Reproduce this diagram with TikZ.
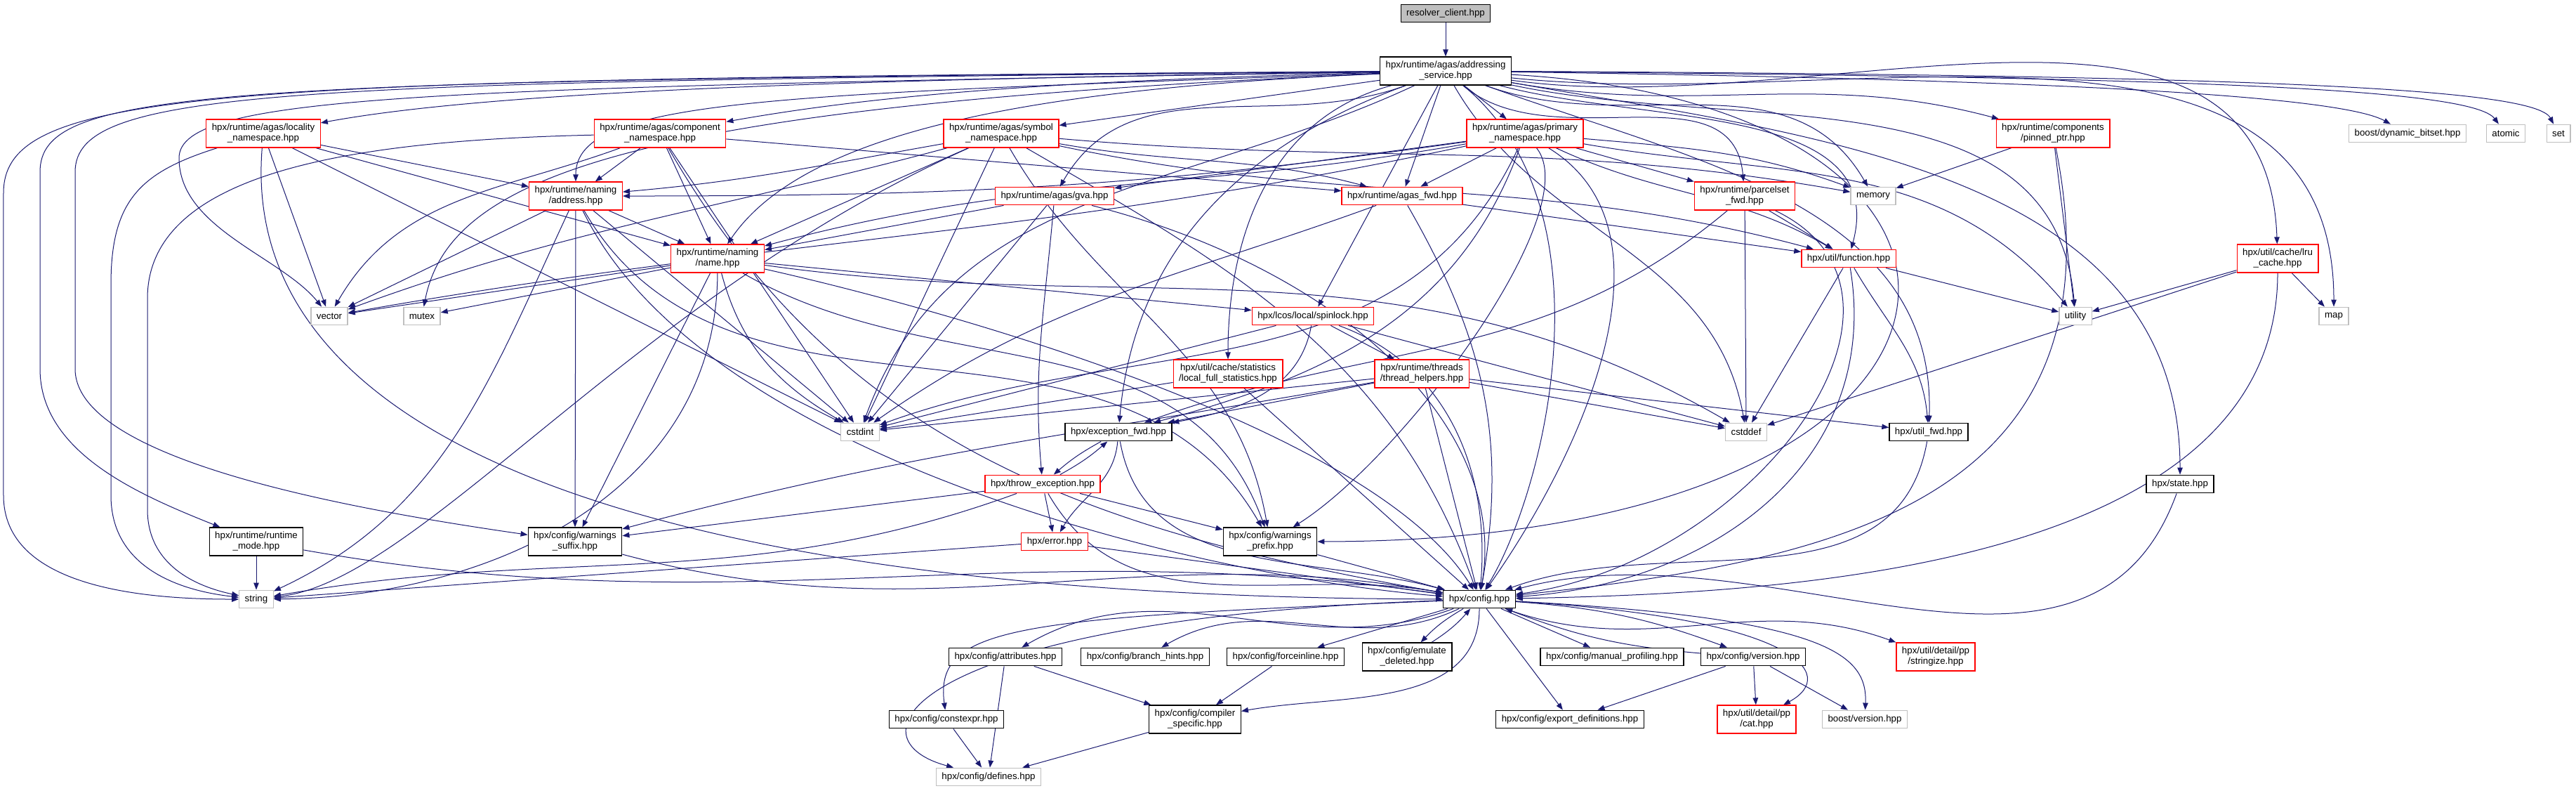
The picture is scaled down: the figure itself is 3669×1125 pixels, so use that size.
\documentclass[tikz,border=0pt]{standalone}
\usepackage{fontspec}
\setmainfont{Liberation Sans}
\usetikzlibrary{arrows.meta}
\pgfdeclarelayer{background}
\pgfsetlayers{background,main}
\definecolor{edgeblue}{RGB}{25,25,112}
\definecolor{sysgray}{RGB}{191,191,191}

\begin{document}
\begin{tikzpicture}[x=0.1pt, y=0.1pt,
    hdrbox/.style={draw, line width=0.13pt, fill=white, font=\fontsize{1.33}{1.5}\selectfont,
      inner xsep=0.8pt, inner ysep=0.2pt, minimum height=2.56pt},
    twoline/.style={align=center, minimum height=4pt},
    plainhdr/.style={hdrbox, draw=black},
    redhdr/.style={hdrbox, draw=red},
    syshdr/.style={hdrbox, draw=sysgray},
    roothdr/.style={hdrbox, draw=black, fill=sysgray},
    dep/.style={color=edgeblue, line width=0.1pt, -{Triangle[length=1pt, width=0.75pt]}}
  ]
    \useasboundingbox (0,0) rectangle (3669,1125);

    % Top
    \node[roothdr] (root) at (2059,1106) {resolver\_client.hpp};
    \node[plainhdr, twoline] (as) at (2059,1024) {hpx/runtime/agas/addressing\\\_service.hpp};

    % Namespaces and system headers
    \node[redhdr, twoline] (loc) at (375,935) {hpx/runtime/agas/locality\\\_namespace.hpp};
    \node[redhdr, twoline] (comp) at (940,935) {hpx/runtime/agas/component\\\_namespace.hpp};
    \node[redhdr, twoline] (sym) at (1426,935) {hpx/runtime/agas/symbol\\\_namespace.hpp};
    \node[redhdr, twoline] (prim) at (2172,935) {hpx/runtime/agas/primary\\\_namespace.hpp};
    \node[redhdr, twoline] (pinned) at (2924,935) {hpx/runtime/components\\/pinned\_ptr.hpp};
    \node[syshdr] (bitset) at (3429,935) {boost/dynamic\_bitset.hpp};
    \node[syshdr] (atomic) at (3569,935) {atomic};
    \node[syshdr] (set) at (3644,935) {set};

    \node[redhdr, twoline] (addr) at (820,846) {hpx/runtime/naming\\/address.hpp};
    \node[redhdr] (gva) at (1502,846) {hpx/runtime/agas/gva.hpp};
    \node[redhdr] (agasfwd) at (1997,846) {hpx/runtime/agas\_fwd.hpp};
    \node[redhdr, twoline] (parcelfwd) at (2485,846) {hpx/runtime/parcelset\\\_fwd.hpp};
    \node[syshdr] (memory) at (2668,846) {memory};

    \node[redhdr, twoline] (name) at (1022,757) {hpx/runtime/naming\\/name.hpp};
    \node[redhdr] (function) at (2633,757) {hpx/util/function.hpp};
    \node[redhdr, twoline] (lru) at (3244,757) {hpx/util/cache/lru\\\_cache.hpp};

    \node[syshdr] (vector) at (469,675) {vector};
    \node[syshdr] (mutex) at (601,675) {mutex};
    \node[redhdr] (spinlock) at (1870,675) {hpx/lcos/local/spinlock.hpp};
    \node[syshdr] (utility) at (2956,675) {utility};
    \node[syshdr] (map) at (3324,675) {map};

    \node[redhdr, twoline] (stats) at (1749,593) {hpx/util/cache/statistics\\/local\_full\_statistics.hpp};
    \node[redhdr, twoline] (threadh) at (2025,593) {hpx/runtime/threads\\/thread\_helpers.hpp};

    \node[syshdr] (cstdint) at (1225,510) {cstdint};
    \node[plainhdr] (excfwd) at (1593,510) {hpx/exception\_fwd.hpp};
    \node[syshdr] (cstddef) at (2487,510) {cstddef};
    \node[plainhdr] (utilfwd) at (2747,510) {hpx/util\_fwd.hpp};

    \node[redhdr] (throwexc) at (1485,436) {hpx/throw\_exception.hpp};
    \node[plainhdr] (state) at (3105,436) {hpx/state.hpp};

    \node[plainhdr, twoline] (rtmode) at (365,354) {hpx/runtime/runtime\\\_mode.hpp};
    \node[plainhdr, twoline] (wsuffix) at (819,354) {hpx/config/warnings\\\_suffix.hpp};
    \node[redhdr] (error) at (1502,354) {hpx/error.hpp};
    \node[plainhdr, twoline] (wprefix) at (1809,354) {hpx/config/warnings\\\_prefix.hpp};

    \node[syshdr] (string) at (365,272) {string};
    \node[plainhdr] (config) at (2107,272) {hpx/config.hpp};

    % Config headers
    \node[plainhdr] (attr) at (1432,190) {hpx/config/attributes.hpp};
    \node[plainhdr] (branch) at (1631,190) {hpx/config/branch\_hints.hpp};
    \node[plainhdr] (forceinl) at (1831,190) {hpx/config/forceinline.hpp};
    \node[plainhdr, twoline] (emulate) at (2004,190) {hpx/config/emulate\\\_deleted.hpp};
    \node[plainhdr] (profiling) at (2296,190) {hpx/config/manual\_profiling.hpp};
    \node[plainhdr] (version) at (2497,190) {hpx/config/version.hpp};
    \node[redhdr, twoline] (stringize) at (2757,190) {hpx/util/detail/pp\\/stringize.hpp};

    \node[plainhdr] (constexpr) at (1348,101) {hpx/config/constexpr.hpp};
    \node[plainhdr, twoline] (compiler) at (1702,101) {hpx/config/compiler\\\_specific.hpp};
    \node[plainhdr] (exportdef) at (2236,101) {hpx/config/export\_definitions.hpp};
    \node[redhdr, twoline] (cat) at (2502,101) {hpx/util/detail/pp\\/cat.hpp};
    \node[syshdr] (bversion) at (2656,101) {boost/version.hpp};

    \node[syshdr] (defines) at (1408,19) {hpx/config/defines.hpp};

    \begin{pgfonlayer}{background}
    % Includes of the root
    \draw[dep] (root) -- (as);

    % addressing_service.hpp
    \path[dep] (as)
      edge (sym)
      edge (prim)
      edge (agasfwd)
      edge (spinlock)
      edge[out=-10, in=165] (pinned)
      edge[out=200, in=60] (gva)
      edge[out=-40, in=95] (parcelfwd)
      edge[out=-20, in=120] (memory)
      edge[out=-15, in=75] (function)
      edge[out=195, in=90] (stats)
      edge[out=200, in=85] (excfwd)
      edge[out=205, in=70] (cstdint)
      edge[out=-60, in=100] (cstddef)
      edge[out=-20, in=88] (utilfwd)
      edge[out=-8, in=92] (lru)
      edge[out=-10, in=90] (state)
      edge[out=-6, in=90] (map)
      edge[out=-12, in=95] (utility);
    \draw[dep] (as) .. controls (1200,1012) and (700,995) .. (loc);
    \draw[dep] (as) .. controls (1500,1010) and (1250,990) .. (comp);
    \draw[dep] (as) .. controls (2900,1012) and (3330,990) .. (bitset);
    \draw[dep] (as) .. controls (3100,1015) and (3520,1000) .. (atomic);
    \draw[dep] (as) .. controls (3200,1018) and (3610,1000) .. (set);
    \draw[dep] (as) .. controls (1100,990) and (820,985) .. (addr);
    \draw[dep] (as) .. controls (1500,1000) and (1150,945) .. (name);
    \draw[dep] (as) .. controls (600,1000) and (255,990) .. (255,900)
      .. controls (255,800) and (400,760) .. (vector);
    \draw[dep] (as) .. controls (900,975) and (640,875) .. (mutex);
    \draw[dep] (as) .. controls (300,1012) and (5,1000) .. (5,850) -- (5,420)
      .. controls (5,290) and (200,272) .. (string);
    \draw[dep] (as) .. controls (300,1010) and (57,1000) .. (57,880) -- (57,600)
      .. controls (57,480) and (200,420) .. (rtmode);
    \draw[dep] (as) .. controls (400,1008) and (107,1000) .. (107,880) -- (107,600)
      .. controls (107,470) and (500,400) .. (wsuffix);
    \draw[dep] (as) .. controls (2950,975) and (2900,355) .. (wprefix);
    \draw[dep] (as) .. controls (2300,825) and (2200,425) .. (config);

    % locality_namespace.hpp
    \path[dep] (loc)
      edge (addr)
      edge (name)
      edge (vector)
      edge (cstdint);
    \draw[dep] (loc) .. controls (200,880) and (158,840) .. (158,720) -- (158,420)
      .. controls (158,320) and (250,285) .. (string);
    \draw[dep] (loc) .. controls (340,505) and (900,275) .. (config);

    % component_namespace.hpp
    \path[dep] (comp)
      edge (addr)
      edge (name)
      edge (agasfwd)
      edge (cstdint)
      edge[out=200, in=60] (vector)
      edge[out=-60, in=170] (config);
    \draw[dep] (comp) .. controls (500,925) and (210,880) .. (210,700) -- (210,400)
      .. controls (210,320) and (280,290) .. (string);

    % symbol_namespace.hpp
    \path[dep] (sym)
      edge (name)
      edge (cstdint)
      edge[out=190, in=5] (addr)
      edge[out=195, in=20] (vector)
      edge[out=-10, in=165] (agasfwd)
      edge[out=-12, in=165] (function)
      edge[out=-5, in=170] (memory)
      edge[out=-60, in=100] (wprefix)
      edge[out=-30, in=110] (config);
    \draw[dep] (sym) .. controls (900,700) and (600,300) .. (string);

    % primary_namespace.hpp
    \path[dep] (prim)
      edge (agasfwd)
      edge (gva)
      edge (parcelfwd)
      edge[out=188, in=0] (addr)
      edge[out=190, in=15] (name)
      edge[out=192, in=10] (vector)
      edge[out=-25, in=150] (function)
      edge[out=-5, in=160] (memory)
      edge[out=-10, in=130] (utility)
      edge[out=-115, in=20] (cstdint)
      edge[out=-110, in=15] (excfwd);
    \draw[dep] (prim) .. controls (2260,825) and (2000,475) .. (wprefix);
    \draw[dep] (prim) .. controls (2400,795) and (2250,475) .. (config);

    % naming
    \path[dep] (addr)
      edge (name)
      edge (vector)
      edge (cstdint)
      edge (wsuffix)
      edge[out=-60, in=120] (wprefix)
      edge[out=-115, in=25] (string);
    \draw[dep] (addr) .. controls (1000,475) and (1700,305) .. (config);
    \path[dep] (name)
      edge (vector)
      edge (mutex)
      edge (spinlock)
      edge (wsuffix)
      edge[out=-75, in=150] (cstdint)
      edge[out=-30, in=110] (wprefix)
      edge[out=-8, in=150] (cstddef);
    \draw[dep] (name) .. controls (1021,425) and (700,275) .. (string);
    \draw[dep] (name) .. controls (1300,695) and (1950,525) .. (config);

    % gva, agas_fwd, parcelset_fwd, function
    \path[dep] (gva)
      edge (name)
      edge (cstdint)
      edge[out=-95, in=95] (throwexc);
    \draw[dep] (gva) .. controls (1900,745) and (2150,525) .. (config);
    \path[dep] (agasfwd)
      edge (function)
      edge[out=200, in=35] (cstdint)
      edge[out=-60, in=80] (config);
    \path[dep] (parcelfwd)
      edge (function)
      edge (cstddef)
      edge[out=-140, in=20] (excfwd);
    \draw[dep] (parcelfwd) .. controls (2780,705) and (2500,325) .. (config);
    \path[dep] (function)
      edge (cstddef)
      edge (utility)
      edge[out=-60, in=95] (utilfwd);
    \draw[dep] (function) .. controls (2680,475) and (2450,295) .. (config);

    % pinned_ptr, lru_cache
    \path[dep] (pinned)
      edge (memory)
      edge (utility);
    \draw[dep] (pinned) .. controls (3030,405) and (2600,325) .. (config);
    \path[dep] (lru)
      edge (utility)
      edge (map)
      edge (cstddef);
    \draw[dep] (lru) .. controls (3244,305) and (2500,280) .. (config);

    % spinlock, statistics, thread_helpers
    \path[dep] (spinlock)
      edge (threadh)
      edge (cstdint)
      edge (cstddef)
      edge[out=-100, in=10] (excfwd)
      edge[out=-20, in=85] (config);
    \path[dep] (stats)
      edge (cstdint)
      edge (config);
    \path[dep] (threadh)
      edge (excfwd)
      edge (cstdint)
      edge (cstddef)
      edge (utilfwd)
      edge (config)
      edge[out=190, in=15] (wsuffix);

    % exceptions
    \path[dep] (excfwd)
      edge[bend right=6] (throwexc)
      edge[out=-95, in=60] (error)
      edge[out=-80, in=165] (config);
    \path[dep] (throwexc)
      edge[bend right=6] (excfwd)
      edge (error)
      edge (wprefix)
      edge (wsuffix)
      edge[out=200, in=10] (string)
      edge[out=-60, in=170] (config);
    \path[dep] (error)
      edge (string)
      edge (config);

    % the rest into hpx/config.hpp
    \path[dep] (utilfwd) edge[out=-100, in=20] (config);
    \path[dep] (state) edge[out=-110, in=15] (config);
    \path[dep] (rtmode) edge (string) edge[out=-10, in=172] (config);
    \path[dep] (wsuffix) edge[out=-15, in=170] (config);
    \path[dep] (wprefix) edge (config);

    % hpx/config.hpp
    \path[dep] (config)
      edge[out=200, in=30] (attr)
      edge[out=205, in=30] (branch)
      edge (forceinl)
      edge[bend right=8] (emulate)
      edge (profiling)
      edge[bend left=8] (version)
      edge (exportdef)
      edge[out=-20, in=160] (stringize)
      edge[out=-90, in=10] (compiler);
    \draw[dep] (config) .. controls (2560,245) and (2620,165) .. (cat);
    \draw[dep] (config) .. controls (2600,245) and (2660,195) .. (bversion);
    \draw[dep] (config) .. controls (1450,245) and (1330,235) .. (constexpr);
    \draw[dep] (config) .. controls (1300,245) and (1200,75) .. (defines);
    \path[dep] (emulate) edge[bend right=8] (config);
    \path[dep] (version) edge[bend left=8] (config);

    % config/...
    \path[dep] (attr) edge (compiler) edge (defines);
    \path[dep] (forceinl) edge (compiler);
    \path[dep] (constexpr) edge (defines);
    \path[dep] (compiler) edge (defines);
    \path[dep] (version) edge (exportdef) edge (cat) edge (bversion);
    \end{pgfonlayer}
\end{tikzpicture}
\end{document}
